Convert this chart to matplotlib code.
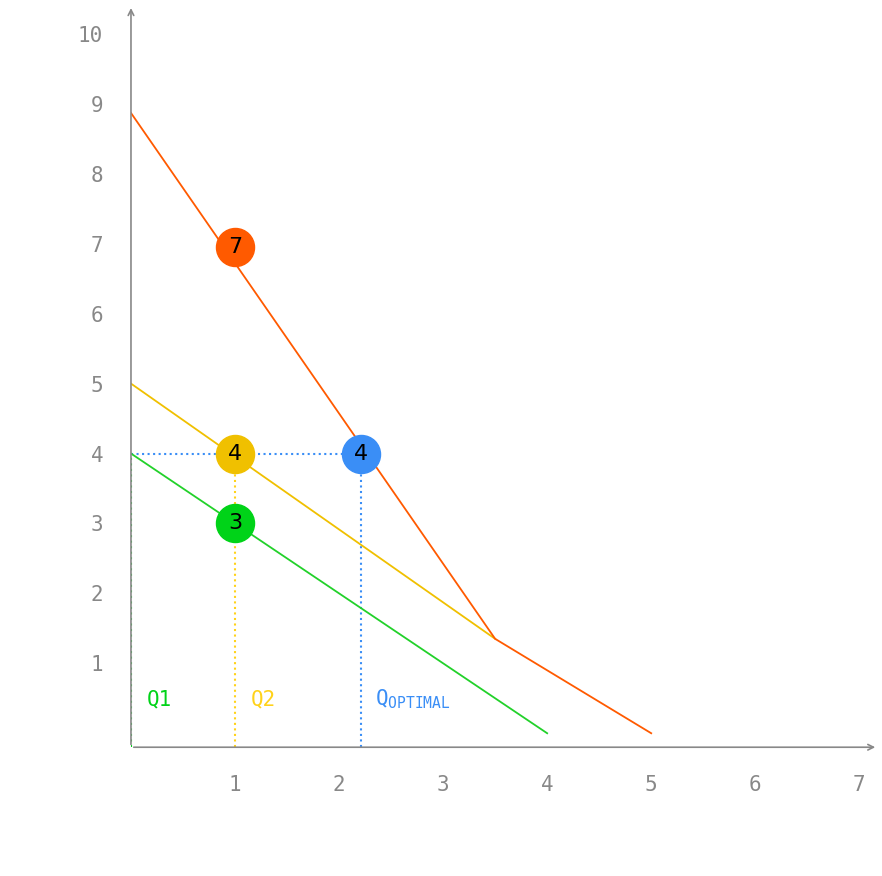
import matplotlib.pyplot as plt

# curves
green_x = [0, 4]
green_y = [4, 0]
yellow_x = [0, 3.5]
yellow_y = [5, 1.35]
orange_x = [0, 3.5, 5]
orange_y = [8.87, 1.35, 0]

# dots: x, y, label, colour
dot_x = [1, 1, 1, 2.21]
dot_y = [6.95, 4, 3, 4]
dot_labels = ["7", "4", "3", "4"]
dot_colors = ["#ff5a00", "#f0c000", "#00d318", "#3a8ef6"]

q_opt = 2.21
x_ticks = [1, 2, 3, 4, 5, 6, 7]
y_ticks = [1, 2, 3, 4, 5, 6, 7, 8, 9, 10]

fig = plt.figure(figsize=(8.82, 8.76), dpi=100)
ax = fig.add_axes([0.1485, 0.147, 0.847, 0.847])
ax.set_xlim(0, 7.18)
ax.set_ylim(-0.2, 10.41)

for s in ["top", "right"]:
    ax.spines[s].set_visible(False)
ax.spines["left"].set_visible(False)
ax.spines["bottom"].set_visible(False)
# axes with arrows
ax.annotate("", xy=(7.18, -0.2), xytext=(0, -0.2),
            arrowprops=dict(arrowstyle="->", color="#888888", lw=1.2))
ax.annotate("", xy=(0, 10.41), xytext=(0, -0.2),
            arrowprops=dict(arrowstyle="->", color="#888888", lw=1.2))

mono = "DejaVu Sans Mono"
ax.set_xticks(x_ticks)
ax.set_yticks(y_ticks)
ax.tick_params(length=0, labelsize=15, labelcolor="#888888", pad=20)
for t in ax.get_xticklabels() + ax.get_yticklabels():
    t.set_fontfamily(mono)

# guides
ax.plot([0, 0], [-0.2, 4], color="#00d318", ls=":", lw=1.5)
ax.plot([1, 1], [-0.2, 4], color="#ffd21a", ls=":", lw=1.5)
ax.plot([0, q_opt], [4, 4], color="#3a8ef6", ls=":", lw=1.5)
ax.plot([q_opt, q_opt], [-0.2, 4], color="#3a8ef6", ls=":", lw=1.5)

ax.plot(green_x, green_y, color="#22d12a", lw=1.3)
ax.plot(yellow_x, yellow_y, color="#f0c000", lw=1.3)
ax.plot(orange_x, orange_y, color="#ff5a00", lw=1.3)

for x, y, lab, c in zip(dot_x, dot_y, dot_labels, dot_colors):
    ax.scatter(x, y, s=750, color=c, zorder=5)
    ax.text(x, y, lab, ha="center", va="center", fontsize=16, zorder=6)

ax.text(0.15, 0.4, "Q1", color="#00d318", fontsize=15, family=mono)
ax.text(1.15, 0.4, "Q2", color="#ffd21a", fontsize=15, family=mono)
ax.text(2.35, 0.4, r"Q$_{\mathtt{OPTIMAL}}$", color="#3a8ef6", fontsize=15, family=mono)

ax.set_xlabel("PUBLIC GOOD QUANTITY", color="white", fontsize=15, labelpad=30)
ax.set_ylabel("MARGINAL BENEFIT", color="white", fontsize=15, labelpad=20)

fig.savefig("out.png", dpi=100)
